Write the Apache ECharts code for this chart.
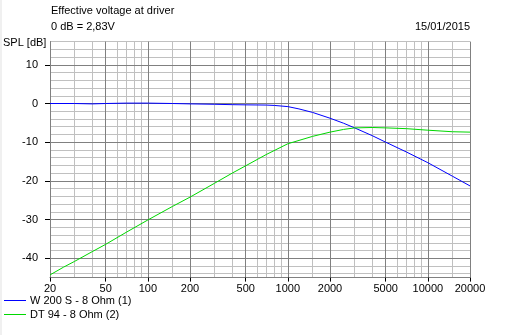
<!DOCTYPE html>
<html>
<head>
<meta charset="utf-8">
<script src="https://cdn.jsdelivr.net/npm/echarts@6/dist/echarts.min.js"></script>
<style>
  html, body { margin: 0; padding: 0; background: #ffffff; }
  #chart { width: 516px; height: 335px; }
</style>
</head>
<body>
<div id="chart"></div>
<script>
// Frequency response, SPL in dB versus frequency in Hz (log frequency axis)
const freqMajorTicks = [20, 50, 100, 200, 500, 1000, 2000, 5000, 10000, 20000];
const freqMinorTicks = [30, 40, 60, 70, 80, 90, 150, 300, 400, 600, 700, 800, 900,
  1500, 3000, 4000, 6000, 7000, 8000, 9000, 15000];
const dbMajorTicks = [-40, -30, -20, -10, 0, 10];
const dbMinorTicks = [-44, -42, -38, -36, -34, -32, -28, -26, -24, -22, -18, -16, -14, -12,
  -8, -6, -4, -2, 2, 4, 6, 8, 12, 14, 16];

const wooferFreq = [20, 30, 40, 50, 70, 100, 150, 200, 300, 400, 500, 700, 800, 1000, 1200,
  1500, 2000, 2500, 3000, 4000, 5000, 7000, 10000, 15000, 20000];
const wooferDb = [0.0, 0.0, -0.1, 0.0, 0.1, 0.1, 0.0, -0.1, -0.2, -0.3, -0.35, -0.4, -0.5, -0.8, -1.4,
  -2.3, -3.8, -5.1, -6.3, -8.3, -10.0, -12.5, -15.3, -18.8, -21.3];

const tweeterFreq = [20, 25, 30, 40, 50, 70, 100, 150, 200, 300, 400, 500, 700, 1000, 1500,
  2000, 2500, 3000, 4000, 5000, 7000, 10000, 15000, 20000];
const tweeterDb = [-44.3, -42.3, -40.8, -38.3, -36.4, -33.3, -30.1, -26.6, -24.2, -20.6, -18.0, -16.1, -13.2, -10.4, -8.5,
  -7.4, -6.7, -6.3, -6.2, -6.3, -6.5, -6.9, -7.3, -7.4];

const seriesNames = ['W 200 S - 8 Ohm (1)', 'DT 94 - 8 Ohm (2)'];
const seriesColors = ['#0000ff', '#00d800'];

const lg = Math.log10;
const pairs = (fs, ds) => fs.map((f, i) => [lg(f), ds[i]]);

const FMIN = lg(20), FMAX = lg(20000);
const DBMIN = -45, DBMAX = 16;
const FONT = 'Liberation Sans';
const MAJOR = '#808080', MINOR = '#c0c0c0';

const chart = echarts.init(document.getElementById('chart'), null, { renderer: 'canvas' });

chart.setOption({
  animation: false,
  backgroundColor: '#ffffff',
  textStyle: { fontFamily: FONT },
  grid: { left: 50, right: 46, top: 41.6, bottom: 57.4, containLabel: false, show: false },
  graphic: [
    { type: 'rect', left: 0, top: 0, shape: { width: 2, height: 335 }, style: { fill: '#f0f0f0' }, silent: true },
    { type: 'text', left: 51, top: 5, style: { text: 'Effective voltage at driver', font: '11px ' + FONT, fill: '#000' } },
    { type: 'text', left: 51, top: 21, style: { text: '0 dB = 2,83V', font: '11px ' + FONT, fill: '#000' } },
    { type: 'text', right: 46, top: 21, style: { text: '15/01/2015', font: '11px ' + FONT, fill: '#000' } },
    { type: 'text', left: 3, top: 37, style: { text: 'SPL [dB]', font: '11px ' + FONT, fill: '#000' } }
  ],
  legend: {
    orient: 'vertical',
    left: 4,
    top: 295,
    itemWidth: 22,
    itemHeight: 1,
    itemGap: 3,
    icon: 'rect',
    padding: 0,
    textStyle: { fontFamily: FONT, fontSize: 11, color: '#000', padding: [0, 0, 0, -1] },
    data: seriesNames.map((n, i) => ({ name: n, itemStyle: { color: seriesColors[i] } }))
  },
  xAxis: [
    {
      // minor frequency grid
      type: 'value', position: 'bottom', min: FMIN, max: FMAX, z: 0,
      axisLine: { show: false },
      axisTick: { show: false, customValues: freqMinorTicks.map(lg) },
      axisLabel: { show: false },
      splitLine: { show: true, lineStyle: { color: MINOR, width: 1 } }
    },
    {
      // major frequency grid, ticks and labels
      type: 'value', position: 'bottom', offset: 0, min: FMIN, max: FMAX, z: 1,
      axisLine: { show: true, onZero: false, lineStyle: { color: MAJOR, width: 1 } },
      axisTick: { show: true, length: 4, customValues: freqMajorTicks.map(lg), lineStyle: { color: '#000' } },
      axisLabel: {
        show: true, margin: 6, color: '#000', fontSize: 11, fontFamily: FONT,
        customValues: freqMajorTicks.map(lg),
        formatter: v => String(Math.round(Math.pow(10, v)))
      },
      splitLine: { show: true, lineStyle: { color: MAJOR, width: 1 } }
    }
  ],
  yAxis: [
    {
      // minor level grid
      type: 'value', position: 'left', min: DBMIN, max: DBMAX, z: 0,
      axisLine: { show: false },
      axisTick: { show: false, customValues: dbMinorTicks },
      axisLabel: { show: false },
      splitLine: { show: true, lineStyle: { color: MINOR, width: 1 } }
    },
    {
      // major level grid, ticks and labels
      type: 'value', position: 'left', offset: 0, min: DBMIN, max: DBMAX, z: 1,
      axisLine: { show: true, onZero: false, lineStyle: { color: MAJOR, width: 1 } },
      axisTick: { show: true, length: 5, customValues: dbMajorTicks, lineStyle: { color: '#000' } },
      axisLabel: {
        show: true, margin: 12, color: '#000', fontSize: 11, fontFamily: FONT,
        customValues: dbMajorTicks
      },
      splitLine: { show: true, lineStyle: { color: MAJOR, width: 1 } }
    }
  ],
  series: [
    {
      name: seriesNames[0], type: 'line', xAxisIndex: 1, yAxisIndex: 1,
      showSymbol: false, symbol: 'none', z: 3,
      lineStyle: { color: seriesColors[0], width: 1 }, itemStyle: { color: seriesColors[0] },
      data: pairs(wooferFreq, wooferDb)
    },
    {
      name: seriesNames[1], type: 'line', xAxisIndex: 1, yAxisIndex: 1,
      showSymbol: false, symbol: 'none', z: 3,
      lineStyle: { color: seriesColors[1], width: 1 }, itemStyle: { color: seriesColors[1] },
      data: pairs(tweeterFreq, tweeterDb)
    }
  ]
});
</script>
</body>
</html>
